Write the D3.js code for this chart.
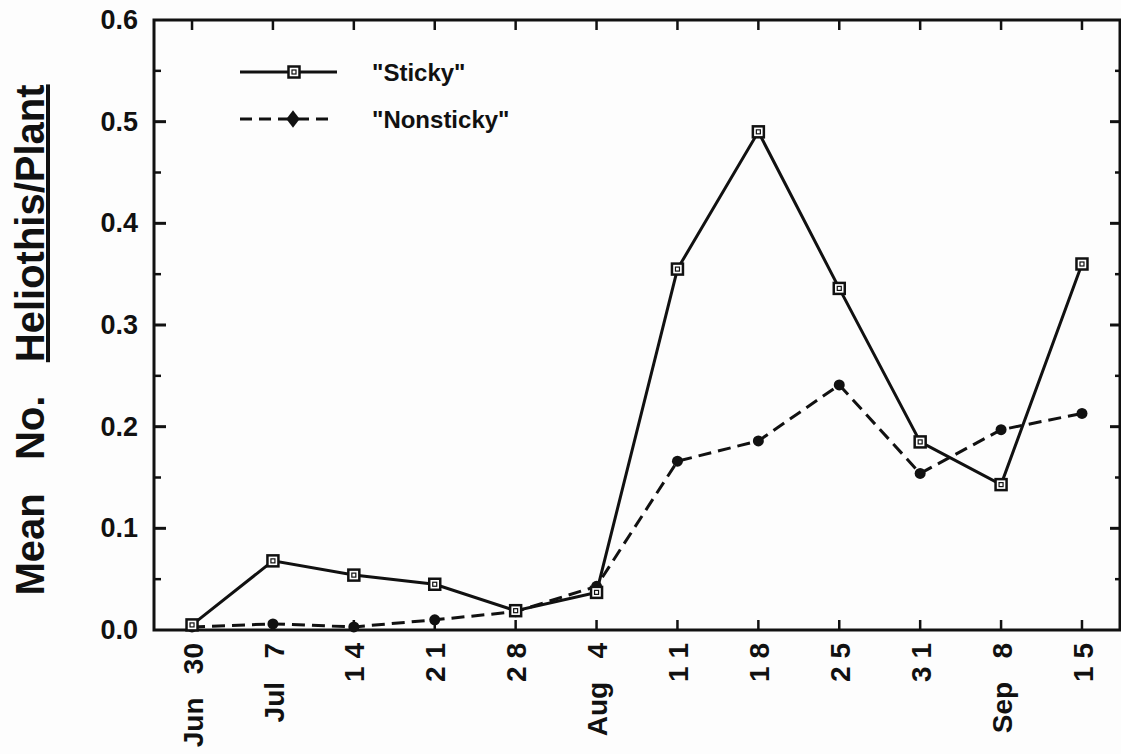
<!DOCTYPE html>
<html>
<head>
<meta charset="utf-8">
<script src="https://cdn.jsdelivr.net/npm/d3@7"></script>
<style>
  html, body { margin: 0; padding: 0; background: #fdfdfd; }
  svg { display: block; }
  text { font-family: "Liberation Sans", Arial, Helvetica, sans-serif; font-weight: bold; fill: #111; }
</style>
</head>
<body>
<svg id="chart" width="1121" height="754"></svg>
<script>
// Sampling dates (evenly spaced on the axis)
const dates = ["Jun30", "Jul7", "Jul14", "Jul21", "Jul28", "Aug4", "Aug11", "Aug18", "Aug25", "Aug31", "Sep8", "Sep15"];
const dateLabels = ["Jun\u00a0\u00a0\u00a030", "Jul\u00a0\u00a0\u00a07", "1 4", "2 1", "2 8", "Aug\u00a0\u00a0\u00a04",
                    "1 1", "1 8", "2 5", "3 1", "Sep\u00a0\u00a0\u00a08", "1 5"];

// Mean number of Heliothis per plant
const sticky    = [0.005, 0.068, 0.054, 0.045, 0.019, 0.037, 0.355, 0.490, 0.336, 0.185, 0.143, 0.360];
const nonsticky = [0.003, 0.006, 0.003, 0.010, 0.018, 0.043, 0.166, 0.186, 0.241, 0.154, 0.197, 0.213];

const yTicks = [0, 0.1, 0.2, 0.3, 0.4, 0.5, 0.6];
const yMinor = [0.05, 0.15, 0.25, 0.35, 0.45, 0.55];
const seriesNames = ["\"Sticky\"", "\"Nonsticky\""];

const svg = d3.select("#chart");
const plot = { left: 154, right: 1120, top: 20, bottom: 630 };

const x = d3.scalePoint().domain(dates).range([plot.left, plot.right]).padding(0.47);
const y = d3.scaleLinear().domain([0, 0.6]).range([plot.bottom, plot.top]);

const ink = "#111";

// frame
svg.append("rect")
  .attr("x", plot.left).attr("y", plot.top)
  .attr("width", plot.right - plot.left).attr("height", plot.bottom - plot.top)
  .attr("fill", "none").attr("stroke", ink).attr("stroke-width", 3);

// left axis labels
const yAxisL = d3.axisLeft(y).tickValues(yTicks).tickFormat(d3.format(".1f")).tickSize(0).tickPadding(16);
const gL = svg.append("g").attr("transform", `translate(${plot.left},0)`).call(yAxisL);
gL.select(".domain").remove();
gL.selectAll("text").style("font-size", "27px");

const tickG = svg.append("g").attr("stroke", ink);
// major and minor y ticks on both sides, pointing inward
tickG.selectAll("line.ymajL").data(yTicks.slice(1, -1)).join("line").attr("class", "ymajL")
  .attr("x1", plot.left).attr("x2", plot.left + 12).attr("y1", d => y(d)).attr("y2", d => y(d)).attr("stroke-width", 3);
tickG.selectAll("line.ymajR").data(yTicks.slice(1, -1)).join("line").attr("class", "ymajR")
  .attr("x1", plot.right).attr("x2", plot.right - 10).attr("y1", d => y(d)).attr("y2", d => y(d)).attr("stroke-width", 3);
tickG.selectAll("line.yminL").data(yMinor).join("line").attr("class", "yminL")
  .attr("x1", plot.left).attr("x2", plot.left + 7).attr("y1", d => y(d)).attr("y2", d => y(d)).attr("stroke-width", 2.5);
tickG.selectAll("line.yminR").data(yMinor).join("line").attr("class", "yminR")
  .attr("x1", plot.right).attr("x2", plot.right - 5).attr("y1", d => y(d)).attr("y2", d => y(d)).attr("stroke-width", 2.5);
// x ticks top and bottom, pointing inward
tickG.selectAll("line.xb").data(dates).join("line").attr("class", "xb")
  .attr("x1", d => x(d)).attr("x2", d => x(d)).attr("y1", plot.bottom).attr("y2", plot.bottom - 10).attr("stroke-width", 2.5);
tickG.selectAll("line.xt").data(dates).join("line").attr("class", "xt")
  .attr("x1", d => x(d)).attr("x2", d => x(d)).attr("y1", plot.top).attr("y2", plot.top + 10).attr("stroke-width", 2.5);

// bottom axis labels, rotated
const xAxis = d3.axisBottom(x).tickSize(0).tickPadding(0).tickFormat((d, i) => dateLabels[i]);
const gB = svg.append("g").attr("transform", `translate(0,${plot.bottom})`).call(xAxis);
gB.select(".domain").remove();
gB.selectAll("text")
  .style("font-size", "28px")
  .attr("transform", "rotate(-90)")
  .attr("text-anchor", "end")
  .attr("x", -13).attr("y", 0).attr("dy", "0.36em");

// y axis title
const title = svg.append("text")
  .attr("transform", `translate(44,340) rotate(-90)`)
  .attr("text-anchor", "middle")
  .style("font-size", "40px");
title.append("tspan").text("Mean\u00a0\u00a0\u00a0No.\u00a0\u00a0\u00a0");
title.append("tspan").style("text-decoration", "underline").text("Heliothis/Plant");

// series lines
const line = d3.line().x((d, i) => x(dates[i])).y(d => y(d));
svg.append("path").datum(nonsticky).attr("d", line)
  .attr("fill", "none").attr("stroke", ink).attr("stroke-width", 3).attr("stroke-dasharray", "13,7");
svg.append("path").datum(sticky).attr("d", line)
  .attr("fill", "none").attr("stroke", ink).attr("stroke-width", 3);

// nonsticky points
svg.selectAll("circle.ns").data(nonsticky).join("circle").attr("class", "ns")
  .attr("cx", (d, i) => x(dates[i])).attr("cy", d => y(d)).attr("r", 5.5).attr("fill", ink);

// sticky points: open square with small inner square
function squareMark(g, cx, cy) {
  g.append("rect").attr("x", cx - 5.5).attr("y", cy - 5.5).attr("width", 11).attr("height", 11)
    .attr("fill", "#fff").attr("stroke", ink).attr("stroke-width", 2.5);
  g.append("rect").attr("x", cx - 2).attr("y", cy - 2).attr("width", 4).attr("height", 4)
    .attr("fill", "none").attr("stroke", ink).attr("stroke-width", 1.2);
}
const sq = svg.append("g");
sticky.forEach((d, i) => squareMark(sq, x(dates[i]), y(d)));

// legend
const lg = svg.append("g");
lg.append("line").attr("x1", 240).attr("x2", 337).attr("y1", 72).attr("y2", 72)
  .attr("stroke", ink).attr("stroke-width", 3);
squareMark(lg, 294, 72);
lg.append("text").attr("x", 372).attr("y", 72).attr("dy", "0.36em").style("font-size", "24px").text(seriesNames[0]);
lg.append("line").attr("x1", 240).attr("x2", 332).attr("y1", 119).attr("y2", 119)
  .attr("stroke", ink).attr("stroke-width", 3).attr("stroke-dasharray", "12,7");
lg.append("path").attr("d", d3.symbol(d3.symbolDiamond, 90)()).attr("transform", "translate(293,119) scale(1.3,1)").attr("fill", ink);
lg.append("text").attr("x", 372).attr("y", 119).attr("dy", "0.36em").style("font-size", "24px").text(seriesNames[1]);
</script>
</body>
</html>
